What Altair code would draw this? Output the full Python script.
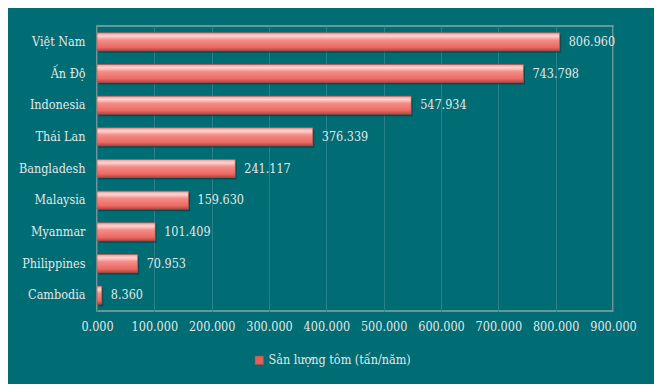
import altair as alt
import pandas as pd

countries = ["Việt Nam", "Ấn Độ", "Indonesia", "Thái Lan", "Bangladesh",
             "Malaysia", "Myanmar", "Philippines", "Cambodia"]
values = [806.960, 743.798, 547.934, 376.339, 241.117, 159.630, 101.409, 70.953, 8.360]
series_name = "Sản lượng tôm (tấn/năm)"
x_ticks = [0, 100, 200, 300, 400, 500, 600, 700, 800, 900]

df = pd.DataFrame({"country": countries, "value": values, "series": series_name})

BG = "#006C74"
TXT = "#E4E8E8"
FONT = "DejaVu Serif Condensed, DejaVu Serif"
FS = 12.5

y_enc = alt.Y("country:N", sort=None, title=None,
              scale=alt.Scale(paddingInner=0.43, paddingOuter=0.215),
              axis=alt.Axis(labelColor=TXT, labelFont=FONT, labelFontSize=FS,
                            ticks=False, domain=False, labelPadding=12, grid=False))
x_enc = alt.X("value:Q", title=None,
              scale=alt.Scale(domain=[0, 900], nice=False),
              axis=alt.Axis(values=x_ticks, format=".3f", labelColor=TXT, labelFont=FONT,
                            labelFontSize=FS, ticks=False, domain=False, labelPadding=9,
                            labelOverlap=False, labelFlush=False,
                            grid=True, gridColor="#2A8189", gridWidth=1))

base = alt.Chart(df)

shadow = base.mark_bar(color="#00363B", opacity=0.55, xOffset=1.5, yOffset=2).encode(
    x=x_enc, y=y_enc)

grad = alt.Gradient(
    gradient="linear", x1=0, x2=0, y1=0, y2=1,
    stops=[
        alt.GradientStop(color="#F09A95", offset=0),
        alt.GradientStop(color="#FCD6D3", offset=0.18),
        alt.GradientStop(color="#F58C86", offset=0.4),
        alt.GradientStop(color="#EB6A64", offset=0.8),
        alt.GradientStop(color="#B9443F", offset=1),
    ])

bars = base.mark_bar(color=grad, stroke="#C94B46", strokeWidth=0.6).encode(
    x=alt.X("value:Q"), y=alt.Y("country:N", sort=None))

legend_layer = base.mark_bar(opacity=0).encode(
    x=alt.X("value:Q"), y=alt.Y("country:N", sort=None),
    color=alt.Color("series:N", title=None,
                    scale=alt.Scale(range=["#E0605A"]),
                    legend=alt.Legend(orient="none", legendX=156, legendY=328,
                                      symbolType="square", symbolSize=70,
                                      symbolOpacity=1, symbolStrokeColor="#C94B46",
                                      symbolStrokeWidth=0.5,
                                      labelColor=TXT, labelFont=FONT, labelFontSize=FS,
                                      labelOffset=3)))

labels = base.mark_text(align="left", baseline="middle", dx=9, color=TXT,
                        font=FONT, fontSize=FS).encode(
    x=alt.X("value:Q"), y=alt.Y("country:N", sort=None),
    text=alt.Text("value:Q", format=".3f"))

chart = alt.layer(shadow, bars, legend_layer, labels).properties(
    width=516, height=285,
    background=BG,
    autosize=alt.AutoSizeParams(type="none"),
    padding={"left": 89, "top": 18, "right": 41, "bottom": 73},
).configure_view(stroke="#8FA3A5", strokeWidth=1.5)

chart.save("out.html", embed_options={"renderer": "svg", "actions": False})
